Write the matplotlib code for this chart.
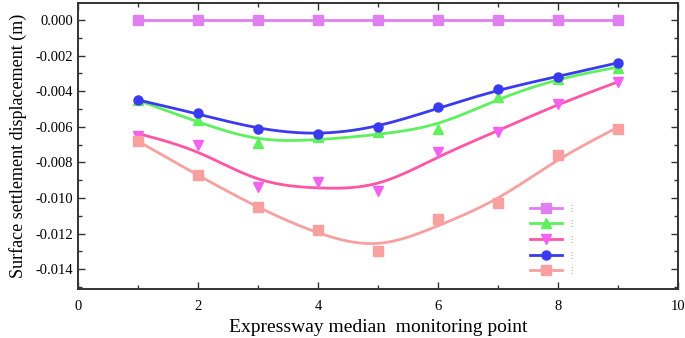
import numpy as np
import matplotlib
matplotlib.use("Agg")
import matplotlib.pyplot as plt

plt.rcParams['font.family'] = ['Liberation Serif', 'DejaVu Serif', 'DejaVu Sans']
plt.rcParams['axes.unicode_minus'] = False

points = [1, 2, 3, 4, 5, 6, 7, 8, 9]
s1 = [0.0, 0.0, 0.0, 0.0, 0.0, 0.0, 0.0, 0.0, 0.0]
s2 = [-0.0045, -0.0056, -0.0069, -0.0066, -0.0063, -0.0061, -0.0043, -0.0033, -0.0027]
s3 = [-0.0065, -0.0070, -0.0094, -0.0091, -0.0096, -0.0074, -0.0063, -0.0047, -0.0035]
s4 = [-0.0045, -0.0052, -0.0061, -0.0064, -0.0060, -0.0049, -0.0039, -0.0032, -0.0024]
s5 = [-0.0068, -0.0087, -0.0105, -0.0118, -0.0130, -0.0112, -0.0103, -0.0076, -0.0061]
labels = ["\u22ee", "\u22ee", "\u22ee", "\u22ee", "\u22ee"]

line_colors = ['#E080F0', '#5EF05E', '#FF55A5', '#3A3AF0', '#F8A0A0']
marker_colors = ['#E080F0', '#5EF05E', '#F460F0', '#3A3AF0', '#F8A0A0']
markers = ['s', '^', 'v', 'o', 's']


def smooth(x, y, lam=0.12, n=401):
    x = np.asarray(x, float)
    y = np.asarray(y, float)
    t = np.linspace(x.min(), x.max(), n)
    h = t[1] - t[0]
    B = np.zeros((len(x), n))
    for i, xi in enumerate(x):
        B[i, int(round((xi - t[0]) / h))] = 1.0
    D = np.diff(np.eye(n), 2, axis=0)
    A = B.T @ B + lam / h**3 * (D.T @ D)
    f = np.linalg.solve(A, B.T @ y)
    return t, f


fig = plt.figure(figsize=(6.85, 3.38), dpi=100)
ax = fig.add_axes([0.1139, 0.145, 0.8759, 0.846])

handles = []
for ys, lc, mc, mk, lab in zip([s1, s2, s3, s4, s5], line_colors, marker_colors, markers, labels):
    t, f = smooth(points, ys)
    ax.plot(t, f, color=lc, lw=2.0, zorder=2)
    ax.plot(points, ys, linestyle='none', marker=mk, color=mc, markersize=6.5, zorder=3)
    h, = ax.plot([], [], color=lc, lw=2.0, marker=mk, markerfacecolor=mc,
                 markeredgecolor=mc, markersize=6.5, label=lab)
    handles.append(h)

leg = ax.legend(handles=handles, loc='upper left', bbox_to_anchor=(0.748, 0.31),
                frameon=False, prop={'family': ['DejaVu Sans'], 'size': 6},
                handlelength=3.8, labelspacing=0.8,
                handletextpad=0.6, borderaxespad=0.0)
for txt in leg.get_texts():
    txt.set_color('#9a8a70')

ax.set_xlim(0, 10)
ax.set_ylim(-0.01512, 0.00096)
ax.set_xticks([0, 2, 4, 6, 8, 10])
ax.set_xticks(np.arange(1, 10, 2), minor=True)
ax.set_yticks(np.arange(-0.014, 0.0001, 0.002))
ax.set_yticks(np.arange(-0.015, 0.0006, 0.001), minor=True)
ax.yaxis.set_major_formatter(matplotlib.ticker.FormatStrFormatter('%.3f'))

ax.tick_params(which='both', direction='in', top=True, right=True,
               labelsize=10.5, width=1.0, color='#333333')
ax.tick_params(which='major', length=5)
ax.tick_params(which='minor', length=3)
ax.tick_params(axis='x', pad=8)
for sp in ax.spines.values():
    sp.set_linewidth(1.4)
    sp.set_color('#333333')

ax.set_xlabel('Expressway median  monitoring point', fontsize=14, labelpad=4)
ax.set_ylabel('Surface settlement displacement (m)', fontsize=13, labelpad=6)

fig.savefig('out.png', dpi=100)
